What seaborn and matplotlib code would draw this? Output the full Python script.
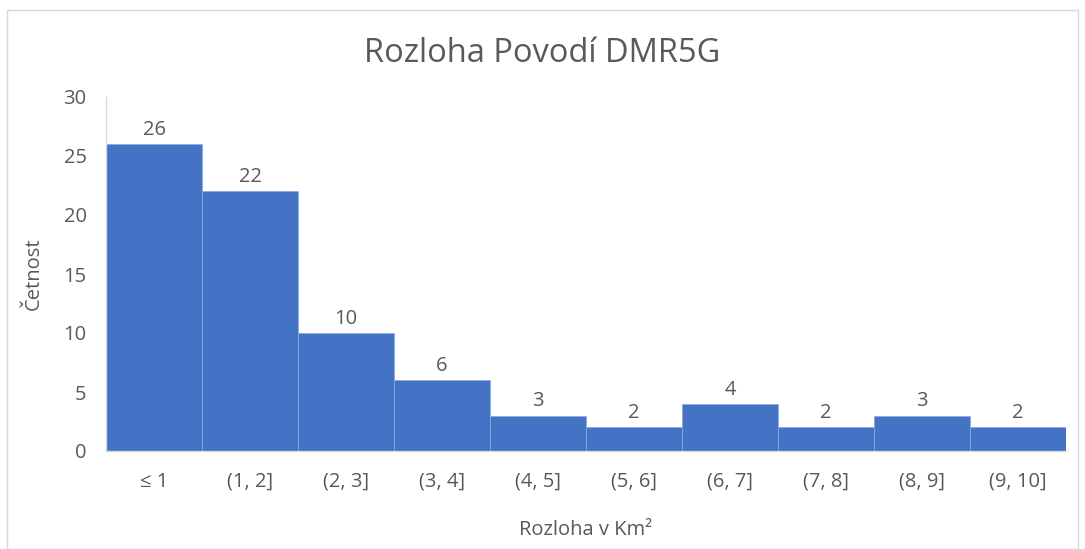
import matplotlib.pyplot as plt
import pandas as pd
import seaborn as sns

categories = ["≤ 1", "(1, 2]", "(2, 3]", "(3, 4]", "(4, 5]", "(5, 6]", "(6, 7]", "(7, 8]", "(8, 9]", "(9, 10]"]
counts = [26, 22, 10, 6, 3, 2, 4, 2, 3, 2]
yticks = [0, 5, 10, 15, 20, 25, 30]

sns.set_style("white")
plt.rcParams["font.family"] = ["Open Sans", "DejaVu Sans"]

text_color = "#595959"
bar_color = "#4472C4"

df = pd.DataFrame({"interval": categories, "count": counts})

fig = plt.figure(figsize=(10.85, 5.49), dpi=100)
ax = fig.add_axes([106 / 1085, 98 / 549, 960 / 1085, 354 / 549])

sns.barplot(data=df, x="interval", y="count", color=bar_color, saturation=1,
            width=1.0, edgecolor="#8FAADC", linewidth=0.6, ax=ax)

for i, v in enumerate(counts):
    ax.text(i, v + 0.35, str(v), ha="center", va="bottom", fontsize=14.5, color=text_color)

ax.set_ylim(0, 30)
ax.set_xlim(-0.5, len(categories) - 0.5)
ax.set_yticks(yticks)
ax.tick_params(axis="both", length=0, labelsize=14.5, labelcolor=text_color)
ax.tick_params(axis="x", pad=15)
ax.tick_params(axis="y", pad=14)

for side in ["top", "right"]:
    ax.spines[side].set_visible(False)
ax.spines["left"].set_color("#D9D9D9")
ax.spines["bottom"].set_color("#D9D9D9")
ax.spines["left"].set_linewidth(1)
ax.spines["bottom"].set_linewidth(1)

ax.set_xlabel("Rozloha v Km²", fontsize=14.5, color=text_color, labelpad=20)
ax.set_ylabel("Četnost", fontsize=14.5, color=text_color, labelpad=14)
fig.text(0.5, 0.872, "Rozloha Povodí DMR5G", ha="center", va="bottom", fontsize=23.5, color=text_color)

border = plt.Rectangle((7 / 1085, 0), 1 - 14 / 1085, 1 - 10 / 549, transform=fig.transFigure,
                       fill=False, edgecolor="#D9D9D9", linewidth=1)
fig.patches.append(border)

fig.savefig("out.png", dpi=100)
